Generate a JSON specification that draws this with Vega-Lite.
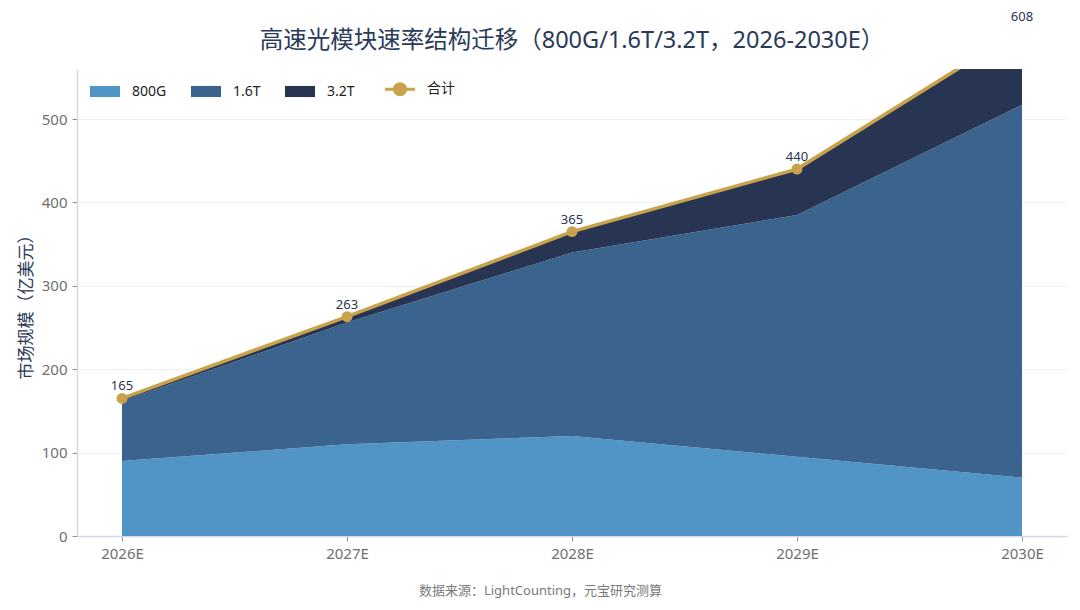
{
  "$schema": "https://vega.github.io/schema/vega-lite/v6.json",
  "width": 990,
  "height": 467,
  "autosize": {"type": "none"},
  "padding": {"left": 77, "top": 69, "right": 13, "bottom": 74},
  "background": "white",
  "title": {
    "text": "高速光模块速率结构迁移（800G/1.6T/3.2T，2026-2030E）",
    "font": "Noto Sans, Noto Sans CJK SC",
    "fontSize": 23.5,
    "fontWeight": "normal",
    "color": "#2a3a58",
    "anchor": "middle",
    "offset": -42
  },
  "config": {
    "font": "Noto Sans, Noto Sans CJK SC",
    "view": {"stroke": null},
    "axis": {
      "labelFont": "Noto Sans",
      "labelFontSize": 15,
      "labelColor": "#6f7070",
      "tickColor": "#8a8f98",
      "tickSize": 5,
      "labelPadding": 5,
      "domainColor": "#d3dae6",
      "domainWidth": 1.5
    }
  },
  "datasets": {
    "mix": [
      {"year": "2026E", "series": "800G", "value": 90},
      {"year": "2026E", "series": "1.6T", "value": 72},
      {"year": "2026E", "series": "3.2T", "value": 3},
      {"year": "2027E", "series": "800G", "value": 110},
      {"year": "2027E", "series": "1.6T", "value": 146},
      {"year": "2027E", "series": "3.2T", "value": 7},
      {"year": "2028E", "series": "800G", "value": 120},
      {"year": "2028E", "series": "1.6T", "value": 220},
      {"year": "2028E", "series": "3.2T", "value": 25},
      {"year": "2029E", "series": "800G", "value": 95},
      {"year": "2029E", "series": "1.6T", "value": 290},
      {"year": "2029E", "series": "3.2T", "value": 55},
      {"year": "2030E", "series": "800G", "value": 70},
      {"year": "2030E", "series": "1.6T", "value": 447},
      {"year": "2030E", "series": "3.2T", "value": 91}
    ],
    "total": [
      {"year": "2026E", "total": 165},
      {"year": "2027E", "total": 263},
      {"year": "2028E", "total": 365},
      {"year": "2029E", "total": 440},
      {"year": "2030E", "total": 608}
    ]
  },
  "encoding": {
    "x": {
      "field": "year",
      "type": "ordinal",
      "scale": {"type": "point", "padding": 0.2},
      "axis": {
        "labelAngle": 0,
        "title": "数据来源：LightCounting，元宝研究测算",
        "titleFontSize": 13,
        "titleFontWeight": "normal",
        "titleColor": "#7a7a7a",
        "titleX": 463,
        "titleY": 54,
        "titleAlign": "center",
        "titleBaseline": "middle"
      }
    }
  },
  "layer": [
    {
      "data": {"name": "mix"},
      "transform": [
        {"calculate": "indexof(['800G','1.6T','3.2T'], datum.series)", "as": "k"}
      ],
      "mark": {"type": "area", "clip": true, "opacity": 1},
      "encoding": {
        "y": {
          "field": "value",
          "type": "quantitative",
          "stack": "zero",
          "scale": {"domain": [0, 560], "nice": false},
          "axis": {
            "values": [0, 100, 200, 300, 400, 500],
            "gridColor": "#eef1f5",
            "gridWidth": 1,
            "title": "市场规模（亿美元）",
            "titleFontSize": 17,
            "titleFontWeight": "normal",
            "titleColor": "#2a3a58",
            "titlePadding": 6
          }
        },
        "order": {"field": "k", "type": "quantitative"},
        "color": {
          "field": "series",
          "type": "nominal",
          "scale": {
            "domain": ["800G", "1.6T", "3.2T", "合计"],
            "range": ["#5095c5", "#3a638d", "#283552", "#c9a24c"]
          },
          "legend": {
            "title": null,
            "orient": "none",
            "direction": "horizontal",
            "legendX": 21,
            "legendY": 13,
            "padding": 0,
            "columnPadding": 24,
            "labelOffset": 20,
            "labelFontSize": 14,
            "labelColor": "#222222",
            "symbolSize": 900,
            "symbolOpacity": 1,
            "symbolStrokeWidth": 0,
            "encode": {
              "symbols": {
                "update": {
                  "shape": {"signal": "datum.value === '合计' ? 'M-1,0H1M0.37,0A0.37,0.37 0 1 1 -0.37,0A0.37,0.37 0 1 1 0.37,0Z' : 'M-1,-0.37H1V0.37H-1Z'"},
                  "fill": {"scale": "color", "field": "value"},
                  "stroke": {"scale": "color", "field": "value"},
                  "strokeWidth": {"signal": "datum.value === '合计' ? 3 : 0"},
                  "opacity": {"value": 1}
                }
              }
            }
          }
        }
      }
    },
    {
      "data": {"name": "total"},
      "mark": {"type": "line", "clip": true, "strokeWidth": 3.5},
      "encoding": {
        "y": {"field": "total", "type": "quantitative"},
        "color": {"datum": "合计"}
      }
    },
    {
      "data": {"name": "total"},
      "mark": {"type": "point", "clip": true, "filled": true, "size": 120, "opacity": 1, "color": "#c9a24c"},
      "encoding": {
        "y": {"field": "total", "type": "quantitative"}
      }
    },
    {
      "data": {"name": "total"},
      "mark": {"type": "text", "font": "Noto Sans", "fontSize": 13, "color": "#2a3550", "baseline": "middle", "dy": -12},
      "encoding": {
        "y": {"field": "total", "type": "quantitative"},
        "text": {"field": "total", "type": "quantitative"}
      }
    }
  ]
}
